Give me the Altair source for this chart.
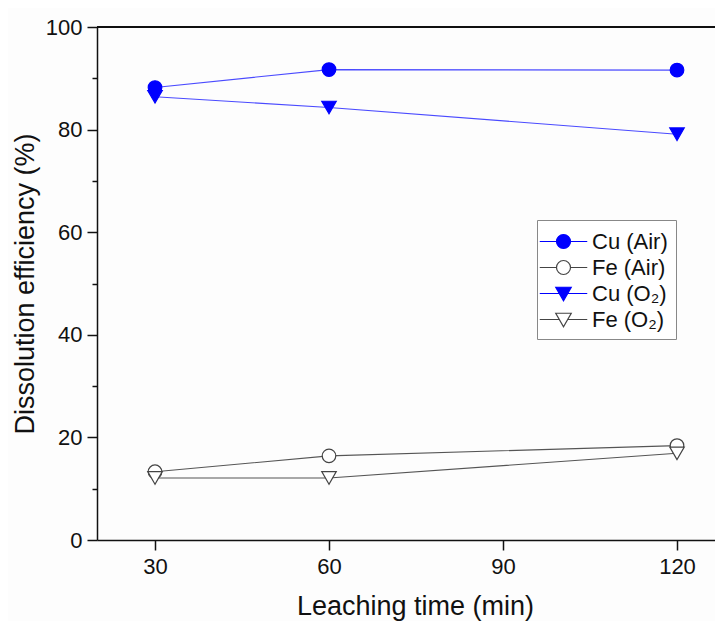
import altair as alt
import pandas as pd

times = [30, 60, 120]
series_names = ["\u00a0Cu (Air)", "Fe (Air)", "Cu (O₂)", "Fe (O₂)"]
cu_air = [88.2, 91.7, 91.6]
fe_air = [13.3, 16.4, 18.4]
cu_o2 = [86.4, 84.3, 79.1]
fe_o2 = [12.1, 12.1, 16.9]

x_ticks = [30, 60, 90, 120]
y_ticks = [0, 10, 20, 30, 40, 50, 60, 70, 80, 90, 100]

BLUE_LINE = "#4a4aff"
GRAY_LINE = "#555555"
marker_stroke = ["#0000ff", "#444444", "#0000ff", "#444444"]
marker_fill = ["#0000ff", "#ffffff", "#0000ff", "#ffffff"]

rows = []
for name, vals in zip(series_names, [cu_air, fe_air, cu_o2, fe_o2]):
    for t, v in zip(times, vals):
        rows.append({"time": t, "value": v, "series": name})
df = pd.DataFrame(rows)

FONT = "Liberation Sans"

# legend symbols: line + marker
CIRC = "M-1.9,0H-0.56M0.56,0H1.9M-0.56,0A0.56,0.56,0,1,0,0.56,0A0.56,0.56,0,1,0,-0.56,0Z"
TRI = "M-1.9,0H-0.32M0.32,0H1.9M-0.62,-0.5L0.62,-0.5L0,0.58Z"
legend_shapes = [CIRC, CIRC, TRI, TRI]

x_enc = alt.X(
    "time:Q",
    scale=alt.Scale(domain=[20, 126.55], nice=False, zero=False),
    axis=alt.Axis(
        values=x_ticks, title="Leaching time (min)", grid=False,
        tickSize=10, tickWidth=1.5, tickColor="#111", domainColor="#111", domainWidth=1.5,
        labelFont=FONT, labelFontSize=22, labelColor="#111", labelPadding=6,
        titleFont=FONT, titleFontSize=27, titleFontWeight="normal", titleColor="#111",
        titleX=318, titleY=74, titleBaseline="alphabetic",
    ),
)
y_enc = alt.Y(
    "value:Q",
    scale=alt.Scale(domain=[0, 100], nice=False),
    axis=alt.Axis(
        values=y_ticks, title="Dissolution efficiency (%)", grid=False,
        labelExpr="datum.value % 20 === 0 ? datum.label : ''",
        tickSize={"condition": {"test": "datum.value % 20 === 0", "value": 10}, "value": 5},
        tickWidth=1.5, tickColor="#111", domainColor="#111", domainWidth=1.5,
        labelFont=FONT, labelFontSize=22, labelColor="#111", labelPadding=5,
        titleFont=FONT, titleFontSize=27, titleFontWeight="normal", titleColor="#111",
        titlePadding=6,
    ),
)

fill_scale = alt.Scale(domain=series_names, range=marker_fill)
stroke_scale = alt.Scale(domain=series_names, range=marker_stroke)

leg = alt.Legend(
    title=None, orient="none", legendX=440, legendY=193,
    symbolSize=625, symbolOffset=5, labelOffset=15, symbolStrokeWidth=1.2,
    symbolOpacity=1,
    labelFont=FONT, labelFontSize=22, labelColor="#111",
    padding=8, rowPadding=1, strokeColor="#888888", fillColor="#ffffff",
)

# layer that only provides the legend (draws no marks)
legend_layer = alt.Chart(df).transform_filter("datum.value < -1000").mark_point(
    filled=True, strokeWidth=1.2, opacity=1
).encode(
    x=x_enc,
    y=y_enc,
    shape=alt.Shape("series:N", scale=alt.Scale(domain=series_names, range=legend_shapes), legend=leg),
    fill=alt.Fill("series:N", scale=fill_scale, legend=leg),
    stroke=alt.Stroke("series:N", scale=stroke_scale, legend=leg),
)

cu_lines = alt.Chart(df).transform_filter(
    "indexof(datum.series, 'Cu') >= 0"
).mark_line(strokeWidth=1.1, color=BLUE_LINE).encode(x=x_enc, y=y_enc, detail="series:N")

fe_lines = alt.Chart(df).transform_filter(
    "indexof(datum.series, 'Fe') >= 0"
).mark_line(strokeWidth=1.1, color=GRAY_LINE).encode(x=x_enc, y=y_enc, detail="series:N")

circles = alt.Chart(df).transform_filter(
    "indexof(datum.series, 'Air') >= 0"
).mark_point(filled=True, shape="circle", size=185, strokeWidth=1.2, opacity=1).encode(
    x=x_enc,
    y=y_enc,
    fill=alt.Fill("series:N", scale=fill_scale),
    stroke=alt.Stroke("series:N", scale=stroke_scale),
)

triangles = alt.Chart(df).transform_filter(
    "indexof(datum.series, 'Air') < 0"
).mark_point(filled=True, shape="triangle-down", size=210, strokeWidth=1.2, opacity=1).encode(
    x=x_enc,
    y=y_enc,
    fill=alt.Fill("series:N", scale=fill_scale),
    stroke=alt.Stroke("series:N", scale=stroke_scale),
)

top_rule = alt.Chart(df).mark_rule(color="#111", strokeWidth=1.5).encode(y=alt.datum(100))

chart = alt.layer(legend_layer, cu_lines, fe_lines, circles, triangles, top_rule).properties(
    width=618, height=513,
    autosize=alt.AutoSizeParams(type="none"),
    padding={"left": 89, "top": 19, "right": 0, "bottom": 81},
    background="#fdfdfd",
).configure_view(stroke=None)

chart.save("out.html", embed_options={"renderer": "svg", "actions": False})
